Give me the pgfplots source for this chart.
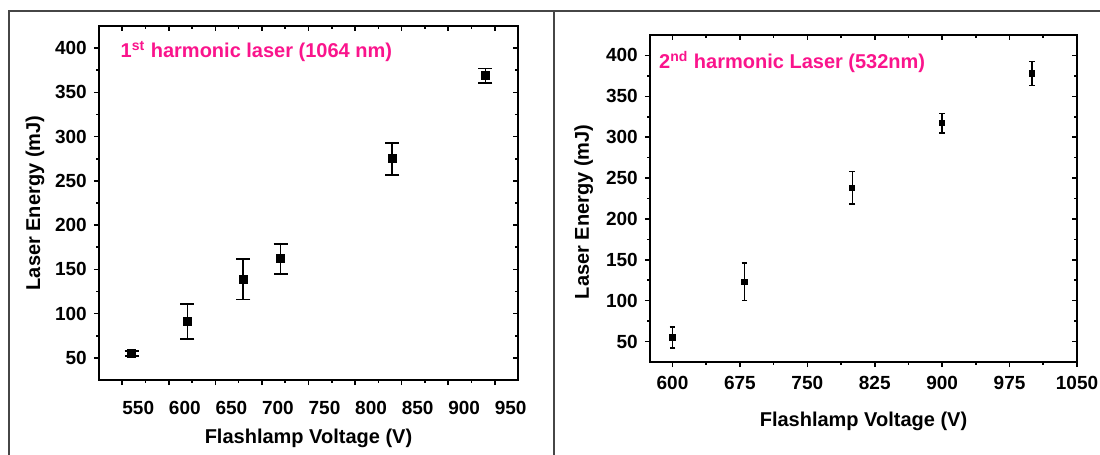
\documentclass[border=0pt]{standalone}
\usepackage{fontspec}
\setmainfont{Liberation Sans}
\usepackage{pgfplots}
\pgfplotsset{compat=1.18}
\definecolor{hpink}{RGB}{250,20,140}
\definecolor{framegray}{RGB}{70,70,70}

\pgfplotsset{
  origin/.style={
    scale only axis,
    axis line style={line width=0.9pt},
    tick style={line width=0.8pt, black},
    major tick length=2.6pt, minor tick length=1.5pt,
    tick align=outside,
    xtick pos=left, ytick pos=left,
    minor x tick num=1, minor y tick num=1,
    ymin=25, ymax=425, ytick={50,100,...,400},
    /pgf/number format/assume math mode=true,
    /pgf/number format/1000 sep={},
    tick label style={font=\fontsize{9.5}{11}\selectfont\bfseries},
    label style={font=\fontsize{10}{12}\selectfont\bfseries},
    ylabel={Laser Energy (mJ)}, xlabel={Flashlamp Voltage (V)},
  },
  mirror/.style={
    scale only axis,
    axis line style={line width=0.9pt},
    tick style={line width=0.8pt, black},
    major tick length=2.6pt, minor tick length=1.5pt,
    tick align=inside,
    xtick pos=right, ytick pos=right,
    minor x tick num=1, minor y tick num=1,
    ymin=25, ymax=425, ytick={50,100,...,400},
    xticklabel=\empty, yticklabel=\empty,
  },
}

\begin{document}
\begin{tikzpicture}
\path[use as bounding box] (0,0) rectangle (550pt,227.5pt);
\draw[framegray, line width=0.75pt] (4.5pt,0pt) -- (4.5pt,222pt) -- (550pt,222pt);
\draw[framegray, line width=0.75pt] (277pt,0pt) -- (277pt,222pt);

% left panel: 1st harmonic
\begin{axis}[origin, at={(49.5pt,37.5pt)}, anchor=south west,
    width=209.5pt, height=177pt,
    xmin=525, xmax=975, xtick={550,600,...,950},
    xticklabel style={xshift=8pt, yshift=-4.5pt},
    xlabel style={at={(axis description cs:0.5,-0.164)}, anchor=center},
    ylabel style={at={(axis description cs:-0.153,0.5)}, anchor=center, rotate=0}]
  \addplot[only marks, black, mark=square*, mark size=2pt,
    mark options={fill=black, draw=black},
    error bars/.cd, y dir=both, y explicit,
    error mark options={rotate=90, mark size=3.5pt, line width=0.9pt, black},
    error bar style={line width=0.9pt, black}]
    coordinates {
      (560,55) +- (0,3)
      (620,91) +- (0,20)
      (680,139) +- (0,23)
      (720,162) +- (0,17)
      (840,275) +- (0,18)
      (940,369) +- (0,8)
    };
  \node[anchor=west, text=hpink, font=\fontsize{10}{12}\selectfont\bfseries]
    at (rel axis cs:0.035,0.927) {1\textsuperscript{st} harmonic laser (1064 nm)};
\end{axis}
\begin{axis}[mirror, at={(49.5pt,37.5pt)}, anchor=south west,
    width=209.5pt, height=177pt,
    xmin=525, xmax=975, xtick={550,600,...,950}]
\end{axis}

% right panel: 2nd harmonic
\begin{axis}[origin, at={(325pt,46.5pt)}, anchor=south west,
    width=213.5pt, height=163.5pt,
    xmin=575, xmax=1050, xtick={600,675,...,1050},
    xticklabel style={yshift=-1pt},
    xlabel style={at={(axis description cs:0.5,-0.183)}, anchor=center},
    ylabel style={at={(axis description cs:-0.155,0.459)}, anchor=center, rotate=0}]
  \addplot[only marks, black, mark=square*, mark size=1.3pt,
    mark options={fill=black, draw=black},
    error bars/.cd, y dir=both, y explicit,
    error mark options={rotate=90, mark size=1.4pt, line width=0.75pt, black},
    error bar style={line width=0.75pt, black}]
    coordinates {
      (600,55) +- (0,13)
      (680,123) +- (0,23)
      (800,238) +- (0,20)
      (900,317) +- (0,12)
      (1000,378) +- (0,14.5)
    };
  \node[anchor=west, text=hpink, font=\fontsize{10}{12}\selectfont\bfseries]
    at (rel axis cs:0.005,0.917) {2\textsuperscript{nd} harmonic Laser (532nm)};
\end{axis}
\begin{axis}[mirror, at={(325pt,46.5pt)}, anchor=south west,
    width=213.5pt, height=163.5pt,
    xmin=575, xmax=1050, xtick={600,675,...,1050}]
\end{axis}
\end{tikzpicture}
\end{document}
